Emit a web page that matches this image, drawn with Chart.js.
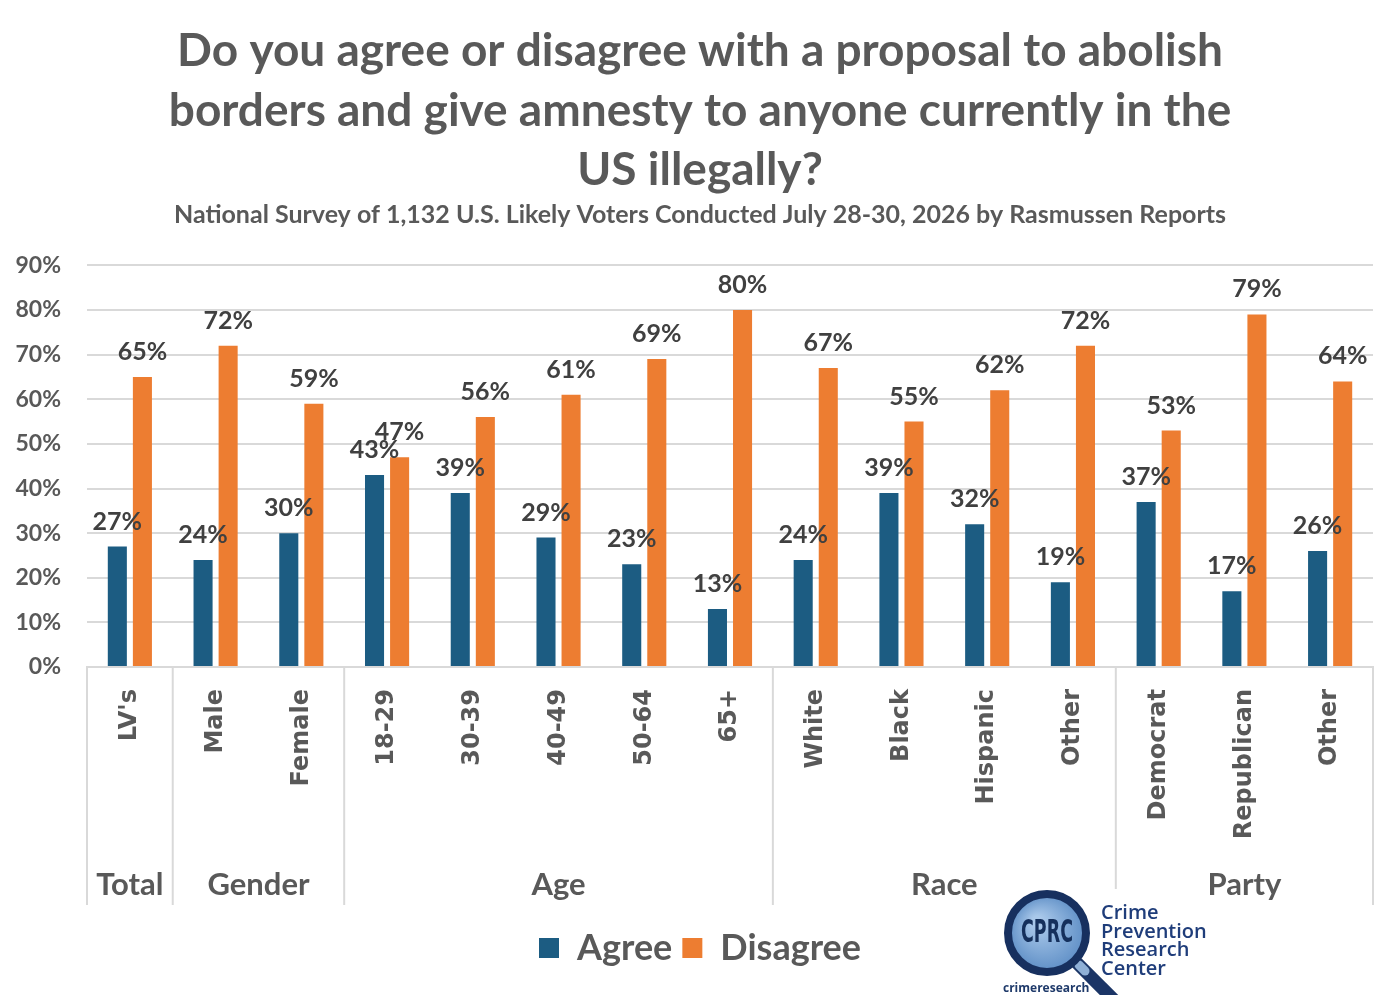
<!DOCTYPE html>
<html>
<head>
<meta charset="utf-8">
<script src="https://cdn.jsdelivr.net/npm/chart.js@4.4.1/dist/chart.umd.min.js"></script>
<style>
  html, body { margin: 0; padding: 0; background: #fff; }
  #wrap { width: 1400px; height: 995px; }
</style>
</head>
<body>
<div id="wrap"><canvas id="pollChart" width="1400" height="995"></canvas></div>
<script>
const categories = ["LV's", 'Male', 'Female', '18-29', '30-39', '40-49', '50-64', '65+',
  'White', 'Black', 'Hispanic', 'Other', 'Democrat', 'Republican', 'Other'];
const groupNames = ['Total', 'Gender', 'Age', 'Race', 'Party'];
const groupSizes = [1, 2, 5, 4, 3];
const agreeValues = [27, 24, 30, 43, 39, 29, 23, 13, 24, 39, 32, 19, 37, 17, 26];
const disagreeValues = [65, 72, 59, 47, 56, 61, 69, 80, 67, 55, 62, 72, 53, 79, 64];

const titleLines = [
  'Do you agree or disagree with a proposal to abolish',
  'borders and give amnesty to anyone currently in the',
  'US illegally?'
];
const subtitleText = 'National Survey of 1,132 U.S. Likely Voters Conducted July 28-30, 2026 by Rasmussen Reports';

const FONT = 'Lato, "Open Sans", sans-serif';
const GREY = '#595959';

// value labels above each bar
const barLabels = {
  id: 'barLabels',
  afterDatasetsDraw(chart) {
    const ctx = chart.ctx;
    ctx.save();
    ctx.font = 'bold 25px ' + FONT;
    ctx.fillStyle = '#404040';
    ctx.textAlign = 'center';
    ctx.textBaseline = 'alphabetic';
    chart.data.datasets.forEach((ds, i) => {
      chart.getDatasetMeta(i).data.forEach((bar, j) => {
        ctx.fillText(ds.data[j] + '%', bar.x, bar.y - 17);
      });
    });
    ctx.restore();
  }
};

// second level of the category axis: group names + separators
const groupAxis = {
  id: 'groupAxis',
  afterDraw(chart) {
    const x = chart.scales.x;
    const ctx = chart.ctx;
    const half = (x.getPixelForValue(1) - x.getPixelForValue(0)) / 2;
    const top = chart.chartArea.bottom;
    const bottom = 905;
    ctx.save();
    ctx.strokeStyle = '#d9d9d9';
    ctx.lineWidth = 2;
    ctx.font = 'bold 31px ' + FONT;
    ctx.fillStyle = GREY;
    ctx.textAlign = 'center';
    ctx.textBaseline = 'alphabetic';
    let start = 0;
    groupSizes.forEach((n, g) => {
      const left = x.getPixelForValue(start) - half;
      const right = x.getPixelForValue(start + n - 1) + half;
      ctx.beginPath();
      ctx.moveTo(left, top);
      ctx.lineTo(left, bottom);
      ctx.stroke();
      if (g === groupSizes.length - 1) {
        ctx.beginPath();
        ctx.moveTo(right, top);
        ctx.lineTo(right, bottom);
        ctx.stroke();
      }
      ctx.fillText(groupNames[g], (left + right) / 2, 895);
      start += n;
    });
    ctx.restore();
  }
};

// CPRC logo, bottom right
const logo = {
  id: 'logo',
  afterDraw(chart) {
    const ctx = chart.ctx;
    const cx = 1047, cy = 933, r = 39;
    ctx.save();
    ctx.fillStyle = '#fff';
    ctx.fillRect(998, 889, 208, 106);
    ctx.lineCap = 'round';
    ctx.strokeStyle = '#1b3566';
    ctx.lineWidth = 13;
    ctx.beginPath();
    ctx.moveTo(cx + 30, cy + 30);
    ctx.lineTo(cx + 68, cy + 68);
    ctx.stroke();
    ctx.strokeStyle = '#8fb0d6';
    ctx.lineWidth = 9;
    ctx.beginPath();
    ctx.moveTo(cx + 32, cy + 32);
    ctx.lineTo(cx + 38, cy + 38);
    ctx.stroke();
    const grad = ctx.createRadialGradient(cx - 10, cy - 12, 5, cx, cy, r);
    grad.addColorStop(0, '#a9c8ea');
    grad.addColorStop(1, '#5f8fc6');
    ctx.beginPath();
    ctx.arc(cx, cy, r, 0, Math.PI * 2);
    ctx.fillStyle = grad;
    ctx.fill();
    ctx.lineWidth = 8;
    ctx.strokeStyle = '#17305f';
    ctx.stroke();
    ctx.fillStyle = '#15305c';
    ctx.textAlign = 'center';
    ctx.textBaseline = 'middle';
    ctx.font = 'bold 27px "DejaVu Sans Condensed", "Liberation Sans Narrow", sans-serif';
    ctx.save();
    ctx.translate(cx, cy);
    ctx.scale(0.72, 1.15);
    ctx.fillText('CPRC', 0, 1);
    ctx.restore();
    ctx.textAlign = 'left';
    ctx.textBaseline = 'alphabetic';
    ctx.fillStyle = '#1f3d7a';
    ctx.font = '600 20px "Open Sans", sans-serif';
    ['Crime', 'Prevention', 'Research', 'Center'].forEach((t, i) => {
      ctx.fillText(t, 1101, 919 + i * 18.5);
    });
    ctx.fillStyle = '#1f3a6a';
    ctx.font = 'bold 12px "Open Sans", sans-serif';
    ctx.fillText('crimeresearch', 1003, 992);
    ctx.restore();
  }
};

new Chart(document.getElementById('pollChart'), {
  type: 'bar',
  data: {
    labels: categories,
    datasets: [
      { label: 'Agree', data: agreeValues, backgroundColor: '#1c5c82' },
      { label: 'Disagree', data: disagreeValues, backgroundColor: '#ed7d31' }
    ]
  },
  options: {
    responsive: false,
    animation: false,
    devicePixelRatio: 1,
    categoryPercentage: 0.585,
    barPercentage: 0.76,
    layout: { padding: { left: 0, right: 0, top: 0, bottom: 19 } },
    plugins: {
      title: {
        display: true,
        text: titleLines,
        color: GREY,
        font: { family: FONT, size: 46, weight: 'bold', lineHeight: 1.3 },
        padding: { top: 21, bottom: 0 }
      },
      subtitle: {
        display: true,
        text: subtitleText,
        color: GREY,
        font: { family: FONT, size: 25, weight: 'bold', lineHeight: 1.2 },
        padding: { top: 0, bottom: 35 }
      },
      legend: {
        position: 'bottom',
        labels: {
          color: GREY,
          font: { family: FONT, size: 36, weight: 'bold' },
          boxWidth: 20,
          boxHeight: 20,
          padding: 10
        }
      },
      tooltip: { enabled: false }
    },
    scales: {
      x: {
        grid: { display: false, drawTicks: false },
        border: { color: '#d9d9d9', width: 2 },
        ticks: {
          color: GREY,
          font: { family: '"DejaVu Sans", sans-serif', size: 24, weight: 'bold' },
          minRotation: 90,
          maxRotation: 90,
          autoSkip: false,
          padding: 22
        },
        afterFit(scale) { scale.height = 253; }
      },
      y: {
        min: 0,
        max: 90,
        grid: { color: '#d9d9d9', lineWidth: 2, drawTicks: false },
        border: { display: false },
        ticks: {
          stepSize: 10,
          color: GREY,
          font: { family: FONT, size: 23, weight: 'bold' },
          padding: 26,
          callback: v => v + '%'
        },
        afterFit(scale) { scale.width = 87; }
      },
      // empty right-hand spacer so the titles stay centred on the page
      spacer: {
        type: 'linear',
        position: 'right',
        grid: { display: false, drawTicks: false },
        border: { display: false },
        ticks: { display: false },
        afterFit(scale) { scale.width = 27; }
      }
    }
  },
  plugins: [barLabels, groupAxis, logo]
});
</script>
</body>
</html>
